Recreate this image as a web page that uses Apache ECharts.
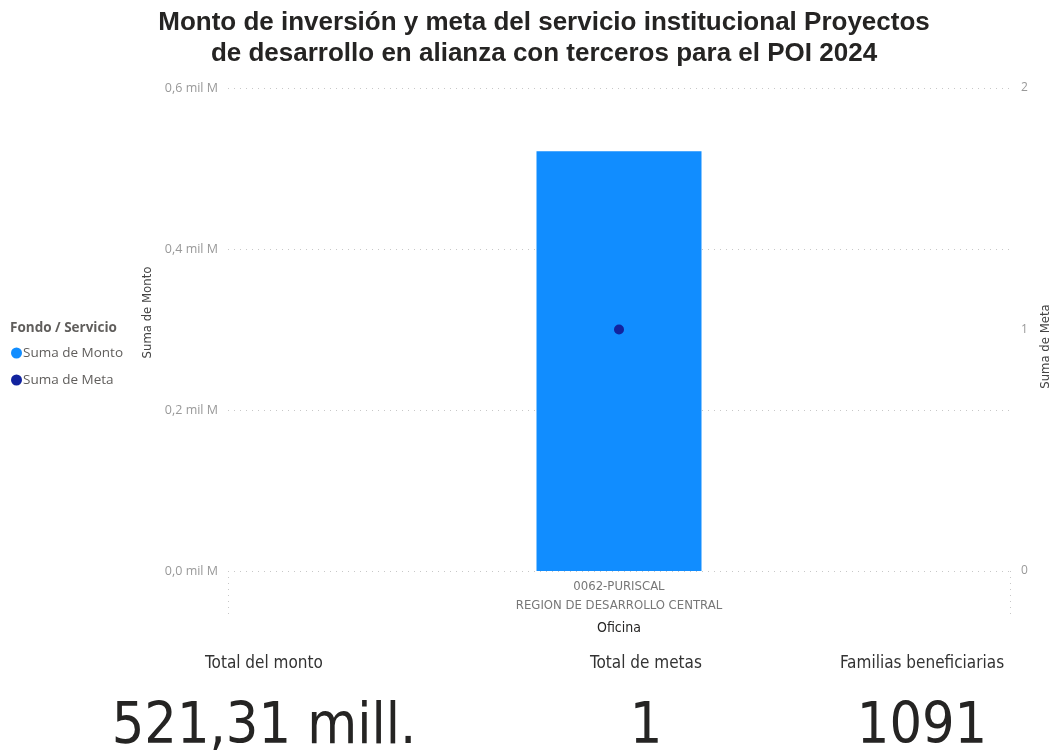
<!DOCTYPE html>
<html><head><meta charset="utf-8">
<script src="https://cdn.jsdelivr.net/npm/echarts@6/dist/echarts.min.js"></script>
<style>html,body{margin:0;padding:0;background:#fff}#c{width:1054px;height:753px}</style>
</head><body><div id="c"></div>
<script>
const categories = ['0062-PURISCAL\nREGION DE DESARROLLO CENTRAL'];
const montoValues = [0.52131];   // mil M (miles de millones)
const metaValues = [1];
const leftTicks = [0, 0.2, 0.4, 0.6];
const rightTicks = [0, 1, 2];
const kpiLabels = ['Total del monto', 'Total de metas', 'Familias beneficiarias'];
const kpiValues = ['521,31 mill.', '1', '1091'];

const chart = echarts.init(document.getElementById('c'));
const kpiX = [259, 641, 917];
const titles = [{
  text: 'Monto de inversión y meta del servicio institucional Proyectos\nde desarrollo en alianza con terceros para el POI 2024',
  left: 539, top: 2, textAlign: 'center',
  textStyle: {fontFamily: 'Liberation Sans, Arial', fontWeight: 'bold', fontSize: 26, lineHeight: 31, color: '#252423'}
}, {
  text: 'Fondo / Servicio', left: 10, top: 321, padding: 0,
  textStyle: {fontFamily: 'Open Sans, sans-serif', fontWeight: 'bold', fontSize: 13.5, color: '#605E5C'}
}];
kpiLabels.forEach((l, i) => {
  titles.push({text: l, left: kpiX[i], top: 650, textAlign: 'center',
    textStyle: {fontFamily: 'DejaVu Sans Condensed, sans-serif', fontWeight: 'normal', fontSize: 17, color: '#333'}});
  titles.push({text: kpiValues[i], left: kpiX[i], top: 695, textAlign: 'center',
    textStyle: {fontFamily: 'DejaVu Sans Condensed, sans-serif', fontWeight: 'normal', fontSize: 57, color: '#252423'}});
});

chart.setOption({
  animation: false,
  title: titles,
  legend: {
    orient: 'vertical', left: 11, top: 346, padding: 0, itemGap: 13, itemWidth: 11, itemHeight: 11,
    icon: 'circle', data: ['Suma de Monto', 'Suma de Meta'],
    textStyle: {fontFamily: 'Open Sans, sans-serif', fontSize: 13.5, color: '#605E5C', padding: [0,0,0,-4]}
  },
  grid: {left: 228, right: 44, top: 88, bottom: 182, outerBoundsMode: 'none', containLabel: false},
  xAxis: {
    type: 'category', data: categories,
    name: 'Oficina', nameLocation: 'middle', nameGap: 50,
    nameTextStyle: {fontFamily: 'DejaVu Sans Condensed, sans-serif', fontSize: 14, color: '#252423'},
    axisLine: {show: false},
    axisTick: {show: true, length: 43, lineStyle: {type: [1, 5], color: '#c8c8c8'}},
    axisLabel: {fontFamily: 'DejaVu Sans Condensed, sans-serif', fontSize: 13, color: '#777', lineHeight: 19, margin: 6}
  },
  yAxis: [{
    type: 'value', min: 0, max: 0.6, interval: 0.2,
    name: 'Suma de Monto', nameLocation: 'middle', nameGap: 71,
    nameTextStyle: {fontFamily: 'DejaVu Sans Condensed, sans-serif', fontSize: 13, color: '#444', padding: [0, 0, 0, 34]},
    axisLabel: {fontFamily: 'Open Sans, sans-serif', fontSize: 12.5, color: '#999', margin: 10,
      formatter: v => leftTicks.includes(Math.round(v*10)/10) ? (v.toFixed(1).replace('.', ',') + ' mil M') : ''},
    splitLine: {lineStyle: {type: [1, 5], color: '#c8c8c8'}}
  }, {
    type: 'value', min: 0, max: 2, interval: 1,
    name: 'Suma de Meta', nameLocation: 'middle', nameGap: 29,
    nameTextStyle: {fontFamily: 'DejaVu Sans Condensed, sans-serif', fontSize: 13, color: '#444', padding: [0, 34, 0, 0]},
    axisLabel: {fontFamily: 'Open Sans, sans-serif', fontSize: 12, color: '#999', margin: 11,
      formatter: v => rightTicks.includes(v) ? String(v) : ''},
    splitLine: {show: false}
  }],
  series: [{
    name: 'Suma de Monto', type: 'bar', data: montoValues, yAxisIndex: 0,
    barWidth: 165, itemStyle: {color: '#118DFF'}
  }, {
    name: 'Suma de Meta', type: 'scatter', data: metaValues, yAxisIndex: 1,
    symbolSize: 10, itemStyle: {color: '#12239E', opacity: 1}
  }]
});
</script></body></html>
